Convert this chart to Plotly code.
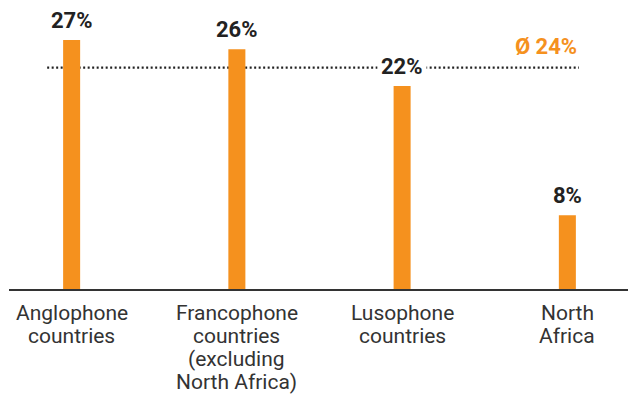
import plotly.graph_objects as go

# Share of respondents by language region
categories = ["Anglophone", "Francophone", "Lusophone", "North Africa"]
category_labels = [
    ["Anglophone", "countries"],
    ["Francophone", "countries", "(excluding", "North Africa)"],
    ["Lusophone", "countries"],
    ["North", "Africa"],
]
values = [27, 26, 22, 8]
value_labels = ["27%", "26%", "22%", "8%"]
average = 24
average_label = "Ø 24%"

ORANGE = "#F5911E"
DARK = "#222222"
LABEL = "#333333"
FONT = "Roboto"

fig = go.Figure()
fig.add_trace(go.Bar(
    x=categories,
    y=values,
    width=0.103,
    marker=dict(color=ORANGE, line=dict(width=0)),
    hoverinfo="skip",
))

# Dotted average line
fig.add_shape(
    type="line", xref="x", yref="y",
    x0=-0.148, x1=3.07, y0=average, y1=average,
    line=dict(color=DARK, width=2.2, dash="2px,2.5px"),
    layer="below",
)

annotations = []
for i, (cat, v, lab) in enumerate(zip(categories, values, value_labels)):
    annotations.append(dict(
        x=cat, y=v, xref="x", yref="y", text=f"<b>{lab}</b>",
        showarrow=False, yanchor="bottom", xanchor="center", yshift=3,
        font=dict(family=FONT, size=22, color=DARK),
        bgcolor="white", borderpad=3,
    ))

annotations.append(dict(
    x=2.87, y=average, xref="x", yref="y", text=f"<b>{average_label}</b>",
    showarrow=False, yanchor="bottom", xanchor="center", yshift=7,
    font=dict(family=FONT, size=22, color=ORANGE),
))

# Category labels, one annotation per line for tight line spacing
for cat, lines in zip(categories, category_labels):
    for j, line in enumerate(lines):
        annotations.append(dict(
            x=cat, y=0, xref="x", yref="y", text=line,
            showarrow=False, yanchor="top", xanchor="center",
            yshift=-10 - 23 * j,
            font=dict(family=FONT, size=21, color=LABEL),
        ))

fig.update_layout(
    width=632, height=394,
    margin=dict(l=9, r=4, t=3, b=105),
    paper_bgcolor="white", plot_bgcolor="white",
    showlegend=False,
    annotations=annotations,
    xaxis=dict(
        type="category", range=[-0.379, 3.367],
        showticklabels=False, ticks="", showgrid=False, zeroline=False,
        showline=True, linecolor="#333333", linewidth=1.5,
        fixedrange=True,
    ),
    yaxis=dict(
        range=[0, 31], visible=False, showgrid=False, zeroline=False,
        fixedrange=True,
    ),
)

fig.write_html("out.html", config={"displayModeBar": False})
